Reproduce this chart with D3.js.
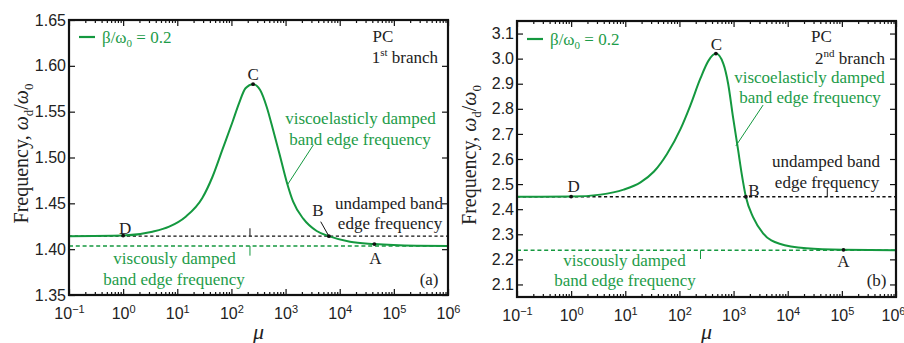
<!DOCTYPE html>
<html>
<head>
<meta charset="utf-8">
<script src="https://cdn.jsdelivr.net/npm/d3@7"></script>
<style>
  html, body { margin: 0; padding: 0; background: #fff; }
  svg { display: block; }
  .serif { font-family: "Liberation Serif", "Times New Roman", Times, "DejaVu Serif", serif; }
  .sans  { font-family: "Liberation Sans", Arial, Helvetica, sans-serif; }
</style>
</head>
<body>
<svg id="chart" width="904" height="343"></svg>
<script>
// ---- data ---------------------------------------------------------------
const muDecades = [-1, 0, 1, 2, 3, 4, 5, 6];
const freqTicksA = [1.35, 1.40, 1.45, 1.50, 1.55, 1.60, 1.65];
const freqTicksB = [2.1, 2.2, 2.3, 2.4, 2.5, 2.6, 2.7, 2.8, 2.9, 3.0, 3.1];

// 1st branch, beta/omega0 = 0.2
const muA   = [0.1, 1, 3.47, 7.08, 14.3, 28.8, 44.7, 67.6, 105, 138, 182, 251, 339, 447, 589, 794, 1047, 1380, 2138, 3758, 6310, 15490, 43650, 263000, 1e6];
const freqA = [1.4142, 1.4148, 1.4190, 1.4245, 1.4354, 1.4555, 1.4790, 1.5080, 1.5390, 1.5590, 1.5755, 1.5800, 1.5736, 1.5554, 1.5300, 1.5010, 1.4736, 1.4518, 1.4330, 1.4198, 1.4142, 1.4080, 1.4056, 1.4038, 1.4035];
const undampedA = 1.4142;
const viscousA  = 1.4035;

// 2nd branch, beta/omega0 = 0.2
const muB   = [0.1, 1, 3.47, 9.33, 19.1, 33.9, 58.9, 105, 158, 243, 347, 472, 646, 794, 977, 1216, 1413, 1687, 2291, 3508, 7079, 22130, 107150, 1e6];
const freqB = [2.4495, 2.4502, 2.4580, 2.4780, 2.5070, 2.5500, 2.6200, 2.7200, 2.8120, 2.9200, 2.9930, 3.0200, 2.9800, 2.9000, 2.7670, 2.6340, 2.5410, 2.4495, 2.3680, 2.3040, 2.2620, 2.2440, 2.2380, 2.2361];
const undampedB = 2.4495;
const viscousB  = 2.2361;

// labelled points on each curve
const pointsA = [
  { id: "C", mu: 251,   f: 1.5800 },
  { id: "B", mu: 6310,  f: 1.4142 },
  { id: "A", mu: 43650, f: 1.4056 },
  { id: "D", mu: 1,     f: 1.4148 }
];
const pointsB = [
  { id: "C", mu: 472,    f: 3.0200 },
  { id: "B", mu: 1687,   f: 2.4495 },
  { id: "A", mu: 107150, f: 2.2380 },
  { id: "D", mu: 1,      f: 2.4502 }
];

// ---- style --------------------------------------------------------------
const GREEN = "#14983f";
const TEXT_GREEN = "#1d9c49";
const BLACK_TXT = "#222";

const svg = d3.select("#chart");

function drawPanel(cfg) {
  const g = svg.append("g");
  const x = d3.scaleLog().domain([1e-1, 1e6]).range([cfg.left, cfg.right]);
  const y = d3.scaleLinear().domain(cfg.yDomain).range([cfg.bottom, cfg.top]);

  const clipId = "clip-" + cfg.name;
  svg.append("defs").append("clipPath").attr("id", clipId)
    .append("rect")
    .attr("x", cfg.left).attr("y", cfg.top)
    .attr("width", cfg.right - cfg.left).attr("height", cfg.bottom - cfg.top);

  const plot = g.append("g").attr("clip-path", `url(#${clipId})`);

  // reference band-edge frequencies
  plot.append("line")
    .attr("x1", cfg.left).attr("x2", cfg.right)
    .attr("y1", y(cfg.undamped)).attr("y2", y(cfg.undamped))
    .attr("stroke", "#111").attr("stroke-width", 1.4)
    .attr("stroke-dasharray", "3.2,2.6");
  plot.append("line")
    .attr("x1", cfg.left).attr("x2", cfg.right)
    .attr("y1", y(cfg.viscous)).attr("y2", y(cfg.viscous))
    .attr("stroke", GREEN).attr("stroke-width", 1.5)
    .attr("stroke-dasharray", "4,2.8");

  // viscoelastically damped curve
  const pts = cfg.mu.map((m, i) => [m, cfg.freq[i]]);
  const line = d3.line()
    .x(d => x(d[0])).y(d => y(d[1]))
    .curve(d3.curveMonotoneX);
  plot.append("path").datum(pts)
    .attr("d", line)
    .attr("fill", "none").attr("stroke", GREEN).attr("stroke-width", 2);

  // annotation pointers (data coordinates)
  cfg.pointers.forEach(p => {
    g.append("line")
      .attr("x1", x(p.from[0])).attr("y1", y(p.from[1]))
      .attr("x2", x(p.to[0])).attr("y2", y(p.to[1]))
      .attr("stroke", p.color).attr("stroke-width", 1);
  });

  // marked points
  cfg.points.forEach(p => {
    g.append("circle")
      .attr("cx", x(p.mu)).attr("cy", y(p.f)).attr("r", 1.9)
      .attr("fill", "#111");
    const lo = cfg.pointLabels[p.id];
    g.append("text").attr("class", "serif")
      .attr("x", x(p.mu) + lo.dx).attr("y", y(p.f) + lo.dy)
      .attr("text-anchor", "middle")
      .attr("font-size", 17)
      .attr("fill", BLACK_TXT)
      .text(p.id);
  });

  // axes: ticks point inward
  const majors = muDecades.map(e => Math.pow(10, e));
  const minors = [];
  muDecades.slice(0, -1).forEach(e => {
    for (let k = 2; k <= 9; k++) minors.push(k * Math.pow(10, e));
  });

  const styleAxis = sel => {
    sel.attr("font-family", null);
    sel.select(".domain").remove();
    sel.selectAll(".tick line").attr("stroke", "#111").attr("stroke-width", 1.2);
  };

  // bottom
  const bottomMajor = g.append("g").attr("transform", `translate(0,${cfg.bottom})`)
    .call(d3.axisBottom(x).tickValues(majors).tickSize(-6).tickPadding(13).tickFormat(() => ""))
    .call(styleAxis);
  g.append("g").attr("transform", `translate(0,${cfg.bottom})`)
    .call(d3.axisBottom(x).tickValues(minors).tickSize(-3).tickFormat(() => ""))
    .call(styleAxis);
  bottomMajor.selectAll(".tick text").each(function (d) {
    const t = d3.select(this);
    const e = Math.round(Math.log10(d));
    t.attr("class", "sans").attr("font-size", 16).attr("fill", BLACK_TXT)
      .attr("dy", "0.71em").attr("text-anchor", "middle")
      .attr("dx", e === 6 ? cfg.lastTickShift : 0);
    t.text("10");
    t.append("tspan").attr("font-size", 11).attr("dy", "-0.55em")
      .text(e < 0 ? "\u2212" + Math.abs(e) : String(e));
  });

  // top
  g.append("g").attr("transform", `translate(0,${cfg.top})`)
    .call(d3.axisTop(x).tickValues(majors).tickSize(-6).tickFormat(() => ""))
    .call(styleAxis);
  g.append("g").attr("transform", `translate(0,${cfg.top})`)
    .call(d3.axisTop(x).tickValues(minors).tickSize(-3).tickFormat(() => ""))
    .call(styleAxis);

  // left with labels
  g.append("g").attr("transform", `translate(${cfg.left},0)`)
    .call(d3.axisLeft(y).tickValues(cfg.yTicks).tickSize(-6).tickPadding(3)
      .tickFormat(d3.format(cfg.yFormat)))
    .call(styleAxis)
    .call(s => s.selectAll(".tick text").attr("class", "sans")
      .attr("font-size", 16).attr("fill", BLACK_TXT));
  // right
  g.append("g").attr("transform", `translate(${cfg.right},0)`)
    .call(d3.axisRight(y).tickValues(cfg.yTicks).tickSize(-6).tickFormat(() => ""))
    .call(styleAxis);

  // frame
  g.append("rect")
    .attr("x", cfg.left).attr("y", cfg.top)
    .attr("width", cfg.right - cfg.left).attr("height", cfg.bottom - cfg.top)
    .attr("fill", "none").attr("stroke", "#111").attr("stroke-width", 2.2);

  // axis titles
  const cx = (cfg.left + cfg.right) / 2;
  g.append("text").attr("class", "serif")
    .attr("x", cx).attr("y", 339)
    .attr("text-anchor", "middle")
    .attr("font-style", "italic").attr("font-size", 22)
    .attr("fill", BLACK_TXT)
    .text("\u03bc");

  const yl = g.append("text").attr("class", "serif")
    .attr("transform", `translate(${cfg.left - 41},${(cfg.top + cfg.bottom) / 2 - 4}) rotate(-90)`)
    .attr("text-anchor", "middle")
    .attr("font-size", 20).attr("fill", BLACK_TXT);
  yl.append("tspan").text("Frequency, ");
  yl.append("tspan").attr("font-style", "italic").text("\u03c9");
  yl.append("tspan").attr("font-size", 13).attr("dy", 4.5).text("d");
  yl.append("tspan").attr("dy", -4.5).text("/");
  yl.append("tspan").attr("font-style", "italic").text("\u03c9");
  yl.append("tspan").attr("font-size", 13).attr("dy", 4.5).text("0");

  // legend
  const lg = cfg.legend;
  g.append("line")
    .attr("x1", lg.x).attr("x2", lg.x + 16)
    .attr("y1", lg.y - 5.5).attr("y2", lg.y - 5.5)
    .attr("stroke", GREEN).attr("stroke-width", 2.2);
  const lt = g.append("text").attr("class", "serif")
    .attr("x", lg.x + 23).attr("y", lg.y)
    .attr("font-size", 17).attr("fill", TEXT_GREEN);
  lt.append("tspan").text("\u03b2/\u03c9");
  lt.append("tspan").attr("font-size", 11).attr("dy", 4).text("0");
  lt.append("tspan").attr("dy", -4).text(" = 0.2");

  // text annotations
  cfg.notes.forEach(n => {
    const t = g.append("text").attr("class", "serif")
      .attr("x", n.x).attr("y", n.y)
      .attr("text-anchor", n.anchor)
      .attr("font-size", 17)
      .attr("fill", n.color);
    if (n.sup) {
      t.append("tspan").text(n.sup[0]);
      t.append("tspan").attr("font-size", 11).attr("dy", -7).text(n.sup[1]);
      t.append("tspan").attr("dy", 7).text(n.sup[2]);
    } else {
      t.text(n.text);
    }
  });
}

drawPanel({
  name: "a",
  left: 69, right: 448, top: 20, bottom: 295, lastTickShift: 0,
  yDomain: [1.35, 1.65], yTicks: freqTicksA, yFormat: ".2f",
  mu: muA, freq: freqA, undamped: undampedA, viscous: viscousA,
  points: pointsA,
  pointLabels: {
    C: { dx: 0, dy: -4 }, B: { dx: -11, dy: -20.5 },
    A: { dx: 1, dy: 19.5 }, D: { dx: 2, dy: -1.5 }
  },
  pointers: [
    { from: [3250, 1.5136], to: [1076, 1.4700], color: GREEN },
    { from: [4457, 1.4300], to: [6266, 1.4144], color: "#111" },
    { from: [220, 1.4228], to: [220, undampedA], color: "#111" },
    { from: [220, viscousA], to: [220, 1.3929], color: GREEN }
  ],
  legend: { x: 79, y: 42.5 },
  notes: [
    { text: "PC", x: 383, y: 42, anchor: "middle", color: BLACK_TXT },
    { sup: ["1", "st", " branch"], x: 438, y: 62.5, anchor: "end", color: BLACK_TXT },
    { text: "viscoelasticly damped", x: 360.5, y: 124, anchor: "middle", color: TEXT_GREEN },
    { text: "band edge frequency", x: 360, y: 145, anchor: "middle", color: TEXT_GREEN },
    { text: "undamped band", x: 389, y: 209, anchor: "middle", color: BLACK_TXT },
    { text: "edge frequency", x: 390, y: 228.5, anchor: "middle", color: BLACK_TXT },
    { text: "viscously damped", x: 174.5, y: 264, anchor: "middle", color: TEXT_GREEN },
    { text: "band edge frequency", x: 174, y: 284.5, anchor: "middle", color: TEXT_GREEN },
    { text: "(a)", x: 438.5, y: 284.5, anchor: "end", color: BLACK_TXT }
  ]
});

drawPanel({
  name: "b",
  left: 517, right: 896, top: 21, bottom: 297, lastTickShift: -3,
  yDomain: [2.05, 3.15], yTicks: freqTicksB, yFormat: ".1f",
  mu: muB, freq: freqB, undamped: undampedB, viscous: viscousB,
  points: pointsB,
  pointLabels: {
    C: { dx: 0.5, dy: -4 }, B: { dx: 8, dy: -1 },
    A: { dx: 0, dy: 17.5 }, D: { dx: 2.5, dy: -4.5 }
  },
  pointers: [
    { from: [3508, 2.815], to: [1102, 2.652], color: GREEN },
    { from: [53830, 2.486], to: [53830, undampedB], color: "#111" },
    { from: [245, viscousB], to: [245, 2.2014], color: GREEN }
  ],
  legend: { x: 527, y: 44.5 },
  notes: [
    { text: "PC", x: 821.5, y: 42, anchor: "middle", color: BLACK_TXT },
    { sup: ["2", "nd", " branch"], x: 885, y: 63.5, anchor: "end", color: BLACK_TXT },
    { text: "viscoelasticly damped", x: 809.5, y: 83, anchor: "middle", color: TEXT_GREEN },
    { text: "band edge frequency", x: 810, y: 103, anchor: "middle", color: TEXT_GREEN },
    { text: "undamped band", x: 826, y: 166.5, anchor: "middle", color: BLACK_TXT },
    { text: "edge frequency", x: 827, y: 188, anchor: "middle", color: BLACK_TXT },
    { text: "viscously damped", x: 624.5, y: 266, anchor: "middle", color: TEXT_GREEN },
    { text: "band edge frequency", x: 625, y: 285.5, anchor: "middle", color: TEXT_GREEN },
    { text: "(b)", x: 886.5, y: 285.5, anchor: "end", color: BLACK_TXT }
  ]
});
</script>
</body>
</html>
